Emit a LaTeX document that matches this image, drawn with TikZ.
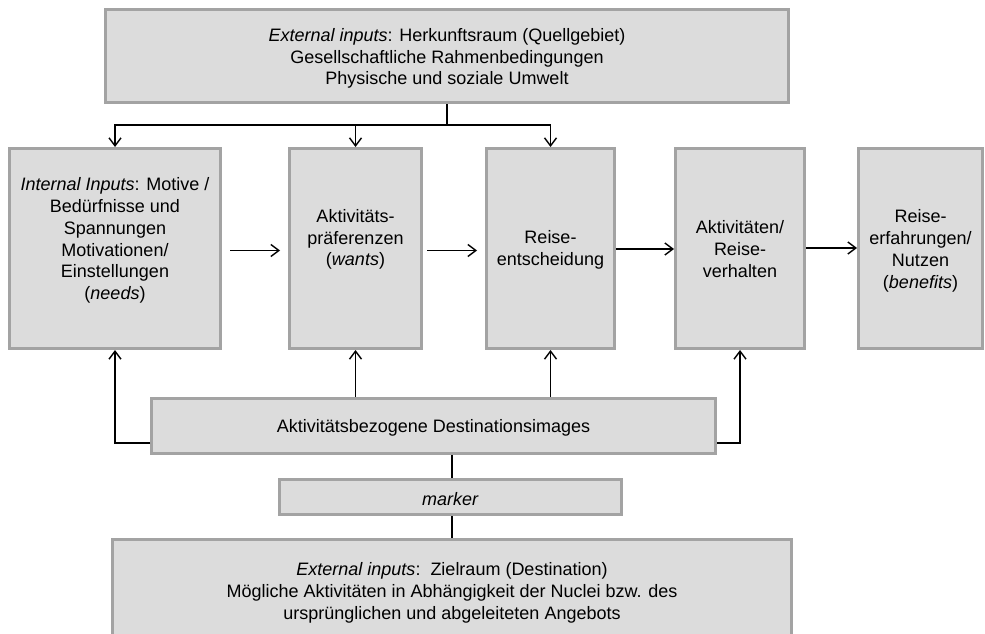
\documentclass[tikz,border=0pt]{standalone}
\usepackage{fontspec}
\setmainfont{Liberation Sans}
\usetikzlibrary{arrows.meta}
\definecolor{boxfill}{HTML}{DCDCDC}
\definecolor{boxline}{HTML}{A3A3A3}
\begin{document}
\begin{tikzpicture}[x=1pt,y=-1pt,
  box/.style={rectangle, draw=boxline, fill=boxfill, line width=3pt, inner sep=0pt},
  lbl/.style={align=center, inner sep=0pt, font=\fontsize{18pt}{21.8pt}\selectfont},
  wire/.style={line width=1.4pt, draw=black},
  arr/.style={wire, -{Straight Barb[length=8pt,width=12pt,line width=1.4pt]}}]
\clip (0,0) rectangle (985,634);
\fill[white] (0,0) rectangle (985,634);

% boxes
\node[box, minimum width=683pt, minimum height=93pt] (top) at (447,56) {};
\node[box, minimum width=211pt, minimum height=200pt] (b1) at (115,248.5) {};
\node[box, minimum width=132pt, minimum height=200pt] (b2) at (355.5,248.5) {};
\node[box, minimum width=128pt, minimum height=200pt] (b3) at (550.5,248.5) {};
\node[box, minimum width=129pt, minimum height=200pt] (b4) at (740,248.5) {};
\node[box, minimum width=124pt, minimum height=200pt] (b5) at (920.5,248.5) {};
\node[box, minimum width=564pt, minimum height=55pt] (dest) at (433.5,426) {};
\node[box, minimum width=342pt, minimum height=35pt] (mark) at (450.5,497) {};
\node[box, minimum width=679pt, minimum height=107pt] (bot) at (452,593) {};

% texts
\node[lbl] (topt) at (447,58.5) {\textit{External inputs}: Herkunftsraum (Quellgebiet)\\
  Gesellschaftliche Rahmenbedingungen\\Physische und soziale Umwelt};
\node[lbl] (b1t) at (115,240.5) {\textit{Internal Inputs}: Motive /\\Bedürfnisse und\\
  Spannungen\\Motivationen/\\Einstellungen\\(\textit{needs})};
\node[lbl] (b2t) at (355.5,239.5) {Aktivitäts-\\präferenzen\\(\textit{wants})};
\node[lbl] (b3t) at (550.5,250) {Reise-\\entscheidung};
\node[lbl] (b4t) at (740,249) {Aktivitäten/\\Reise-\\verhalten};
\node[lbl] (b5t) at (920.5,251) {Reise-\\erfahrungen/\\Nutzen\\(\textit{benefits})};
\node[lbl] (destt) at (433.5,428) {Aktivitätsbezogene Destinationsimages};
\node[lbl] (markt) at (450.5,499) {\textit{marker}};
\node[lbl] (bott) at (452,593) {\textit{External inputs}:\ \ Zielraum (Destination)\\
  Mögliche Aktivitäten in Abhängigkeit der Nuclei bzw. des\\
  ursprünglichen und abgeleiteten Angebots};

% origin inputs fanning down
\coordinate (split) at (447,125);
\draw[wire] (top.south) -- (split);
\draw[arr] (split) -| (b1.north);
\draw[arr] (split) -| (b3.north);
\draw[arr] (split -| b2.north) -- (b2.north);

% chain of the decision process
\draw[arr] ([xshift=8pt,yshift=-2pt]b1.east) -- ([xshift=-8pt,yshift=-2pt]b2.west);
\draw[arr] ([xshift=4pt,yshift=-2pt]b2.east) -- ([xshift=-8pt,yshift=-2pt]b3.west);
\draw[arr] ([yshift=-0.5pt]b3.east) -- ([yshift=-0.5pt]b4.west);
\draw[arr] ([yshift=0.5pt]b4.east) -- ([yshift=0.5pt]b5.west);

% destination images feeding upwards
\draw[arr] ([yshift=-17pt]dest.west) -| (b1.south);
\draw[arr] ([yshift=-17pt]dest.east) -| (b4.south);
\draw[arr] (dest.north -| b2.south) -- (b2.south);
\draw[arr] (dest.north -| b3.south) -- (b3.south);

% destination side links
\draw[wire] (dest.south -| bot.north) -- (mark.north -| bot.north);
\draw[wire] (mark.south -| bot.north) -- (bot.north);
\end{tikzpicture}
\end{document}
